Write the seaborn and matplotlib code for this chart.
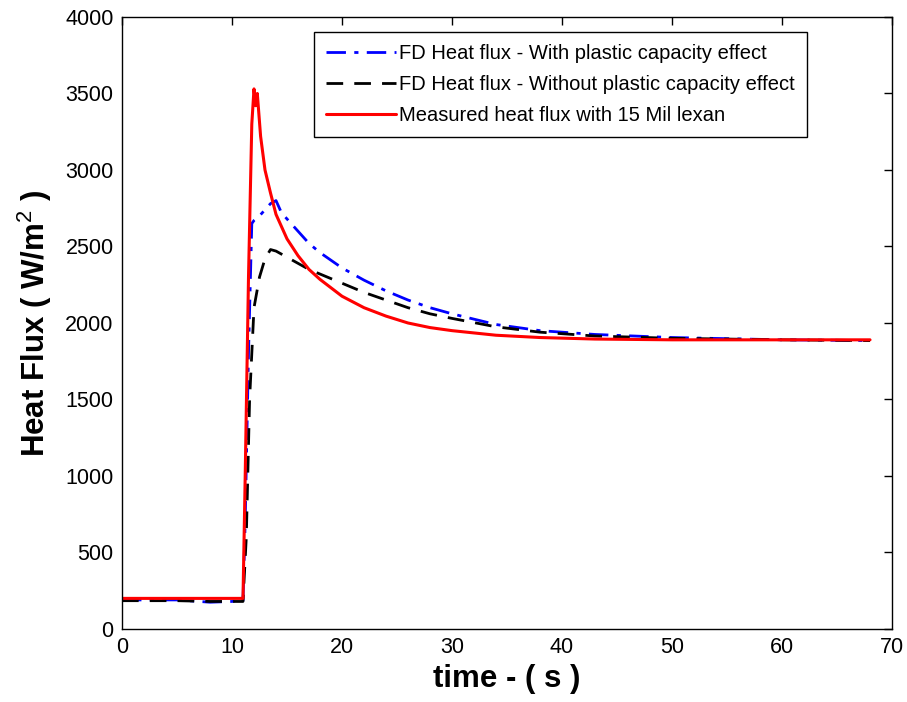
import matplotlib
matplotlib.use("Agg")
import matplotlib.pyplot as plt
import seaborn as sns
import pandas as pd

# ---- data ----
t_blue = [0, 5, 8, 10, 11, 11.2, 11.5, 11.8, 12.0, 12.5, 13.0, 13.5, 14.0, 14.5, 15, 16, 17, 18, 20, 22, 24, 26, 28, 30, 34, 38, 43, 50, 60, 68]
q_blue = [190, 190, 175, 180, 185, 700, 1800, 2650, 2670, 2700, 2740, 2780, 2800, 2720, 2680, 2600, 2520, 2460, 2360, 2280, 2210, 2150, 2100, 2060, 1990, 1950, 1925, 1905, 1890, 1885]

t_black = [0, 5, 8, 10, 11, 11.3, 11.6, 12.0, 12.5, 13.0, 13.5, 14, 15, 16, 17, 18, 20, 22, 24, 26, 28, 30, 34, 38, 43, 50, 60, 68]
q_black = [185, 185, 180, 180, 180, 600, 1500, 2100, 2300, 2420, 2480, 2470, 2430, 2390, 2350, 2320, 2260, 2200, 2150, 2100, 2060, 2030, 1975, 1940, 1915, 1900, 1890, 1885]

t_red = [0, 11, 11.2, 11.5, 11.8, 12.0, 12.15, 12.3, 12.6, 13.0, 13.5, 14, 15, 16, 17, 18, 20, 22, 24, 26, 28, 30, 34, 38, 43, 50, 60, 68]
q_red = [200, 200, 1000, 2300, 3300, 3530, 3420, 3500, 3220, 3000, 2850, 2710, 2550, 2440, 2350, 2285, 2175, 2100, 2045, 2000, 1970, 1950, 1920, 1905, 1895, 1890, 1890, 1890]

labels = ["FD Heat flux - With plastic capacity effect",
          "FD Heat flux - Without plastic capacity effect",
          "Measured heat flux with 15 Mil lexan"]

xticks = [0, 10, 20, 30, 40, 50, 60, 70]
yticks = [0, 500, 1000, 1500, 2000, 2500, 3000, 3500, 4000]

sns.set_theme(style="white")
plt.rcParams["font.family"] = ["Liberation Sans", "DejaVu Sans"]
plt.rcParams["mathtext.fontset"] = "custom"
plt.rcParams["mathtext.rm"] = "Liberation Sans"
plt.rcParams["mathtext.bf"] = "Liberation Sans:bold"
plt.rcParams["text.color"] = "black"
plt.rcParams["axes.labelcolor"] = "black"

fig = plt.figure(figsize=(9.07, 7.02), dpi=100)
ax = fig.add_axes([0.1345, 0.104, 0.849, 0.8718])

d1 = pd.DataFrame({"t": t_blue, "q": q_blue})
d2 = pd.DataFrame({"t": t_black, "q": q_black})
d3 = pd.DataFrame({"t": t_red, "q": q_red})

sns.lineplot(data=d1, x="t", y="q", ax=ax, color="#0000ff", lw=2.0,
             label=labels[0], estimator=None, sort=False)
ax.lines[-1].set_dashes([7, 3, 1.5, 3])
sns.lineplot(data=d2, x="t", y="q", ax=ax, color="black", lw=2.0,
             label=labels[1], estimator=None, sort=False)
ax.lines[-1].set_dashes([6, 4])
sns.lineplot(data=d3, x="t", y="q", ax=ax, color="#ff0000", lw=2.2,
             label=labels[2], estimator=None, sort=False)

ax.set_xlim(0, 70)
ax.set_ylim(0, 4000)
ax.set_xticks(xticks)
ax.set_yticks(yticks)
ax.tick_params(direction="in", length=6, width=1, top=True, right=True,
               labelsize=15.5, colors="black", pad=6)
for s in ax.spines.values():
    s.set_color("black")
    s.set_linewidth(1.0)

ax.set_xlabel("time - ( s )", fontsize=22.5, fontweight="bold", labelpad=4)
ax.set_ylabel(r"Heat Flux ( W/m$^2$ )", fontsize=22.5, fontweight="bold", labelpad=8)

leg = ax.legend(loc="upper right", fontsize=14.5, frameon=True, fancybox=False,
                framealpha=1, edgecolor="black", handlelength=3.5,
                handletextpad=0.15, borderpad=0.6, labelspacing=0.6,
                borderaxespad=0, bbox_to_anchor=(0.8896, 0.9755))
leg.get_frame().set_linewidth(1.0)

fig.savefig("out.png", dpi=100, facecolor="white")
